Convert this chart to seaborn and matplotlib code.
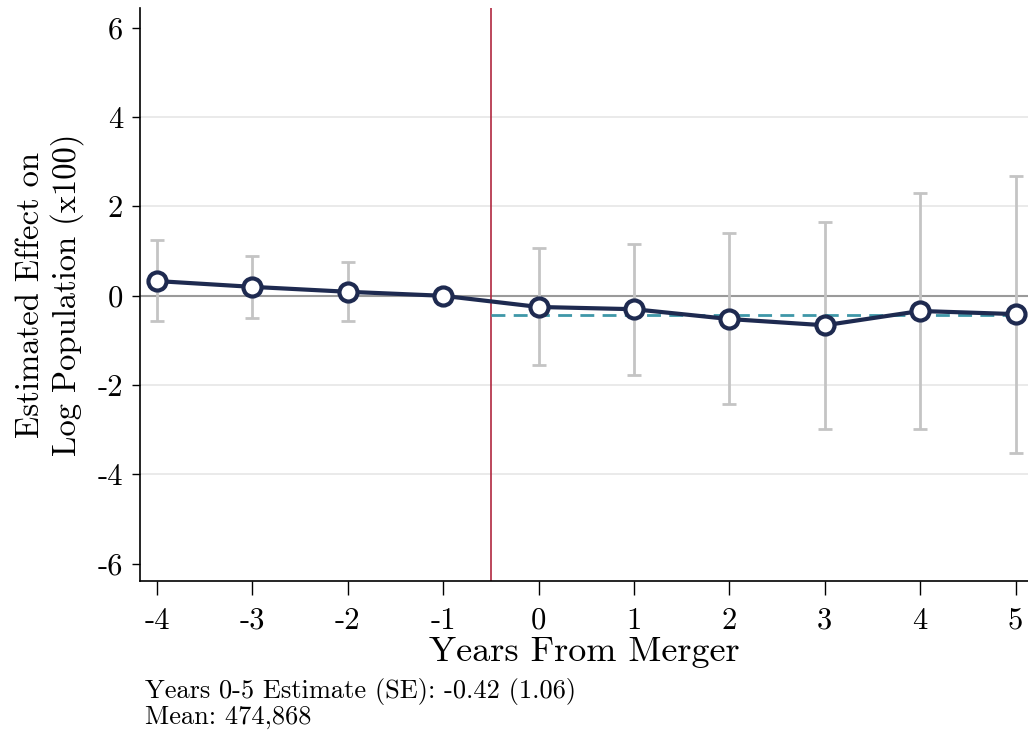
import matplotlib
matplotlib.use('Agg')
import matplotlib.pyplot as plt
import seaborn as sns
import numpy as np
import pandas as pd

# event-study estimates (x100)
years = [-4, -3, -2, -1, 0, 1, 2, 3, 4, 5]
estimate = [0.33, 0.20, 0.09, 0.0, -0.25, -0.30, -0.52, -0.66, -0.34, -0.41]
ci_low = [-0.56, -0.49, -0.56, np.nan, -1.55, -1.77, -2.42, -2.98, -2.98, -3.51]
ci_high = [1.26, 0.89, 0.76, np.nan, 1.06, 1.17, 1.40, 1.66, 2.31, 2.69]
pooled = -0.42
pooled_years = [-0.5, 5]
yticks = [-6, -4, -2, 0, 2, 4, 6]

df = pd.DataFrame({'year': years, 'est': estimate, 'lo': ci_low, 'hi': ci_high})

sns.set_style('white')
plt.rcParams['font.family'] = ['cmr10', 'DejaVu Serif']
plt.rcParams['axes.unicode_minus'] = False
plt.rcParams['text.color'] = 'black'
plt.rcParams['axes.labelcolor'] = 'black'
plt.rcParams['xtick.color'] = 'black'
plt.rcParams['ytick.color'] = 'black'

fig = plt.figure(figsize=(10.28, 7.38), dpi=100)
ax = fig.add_axes([0.136, 0.213, 0.864, 0.776])

navy = '#1e2a50'
for g in [-4, -2, 2, 4]:
    ax.axhline(g, color='#e6e6e6', lw=1.2, zorder=0)
ax.axhline(0, color='#9a9a9a', lw=1.5, zorder=1)
ax.axvline(-0.5, color='#b0283f', lw=1.2, zorder=1)

ci = df.dropna()
ax.errorbar(ci['year'], (ci['lo'] + ci['hi']) / 2, yerr=(ci['hi'] - ci['lo']) / 2,
            fmt='none', ecolor='#c4c4c4', elinewidth=2, capsize=5, capthick=2, zorder=2)

ax.plot(pooled_years, [pooled, pooled], color='#3f97a8', lw=2, ls=(0, (5, 3)), zorder=3)

sns.lineplot(data=df, x='year', y='est', ax=ax, color=navy, lw=3, marker='o',
             markersize=13, markerfacecolor='white', markeredgecolor=navy,
             markeredgewidth=3, zorder=4)

ax.set_xlim(-4.18, 5.13)
ax.set_ylim(-6.38, 6.44)
ax.set_xticks(years)
ax.set_xticklabels([str(v) for v in years], fontsize=22)
ax.set_yticks(yticks)
ax.set_yticklabels([str(v) for v in yticks], fontsize=22)
ax.tick_params(axis='x', direction='out', length=10, width=1, pad=9, bottom=True)
ax.tick_params(axis='y', direction='out', length=6, width=1, pad=6, left=True)

for s in ['top', 'right']:
    ax.spines[s].set_visible(False)
for s in ['left', 'bottom']:
    ax.spines[s].set_color('black')
    ax.spines[s].set_linewidth(1.2)

ax.set_xlabel('Years From Merger', fontsize=26, labelpad=1)
ax.set_ylabel('Estimated Effect on\nLog Population (x100)', fontsize=23.5, labelpad=10)

fig.text(0.141, 0.012, 'Years 0-5 Estimate (SE): -0.42 (1.06)\nMean: 474,868',
         fontsize=19, ha='left', va='bottom', linespacing=1.0)

fig.savefig('out.png', dpi=100)
